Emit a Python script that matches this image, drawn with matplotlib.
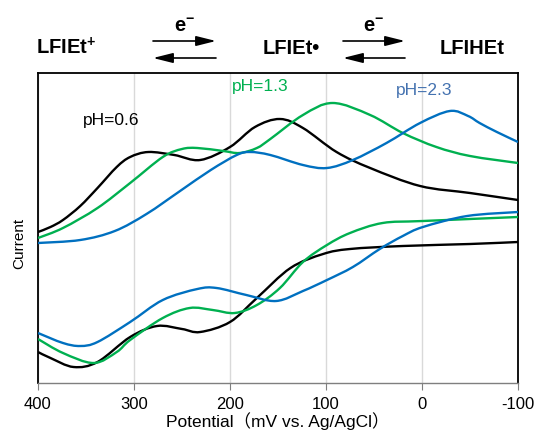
import matplotlib
matplotlib.use('Agg')
import matplotlib.pyplot as plt
from matplotlib.path import Path
from matplotlib.patches import PathPatch, FancyArrowPatch

plt.rcParams['font.family'] = ['Liberation Sans', 'Noto Sans CJK JP', 'DejaVu Sans']
plt.rcParams['mathtext.fontset'] = 'custom'
plt.rcParams['mathtext.rm'] = 'Liberation Sans'
plt.rcParams['mathtext.bf'] = 'Liberation Sans:bold'

### DATA (potential in mV vs Ag/AgCl, current in arbitrary units)
# upper branches
black_up_pot = [400, 387, 374, 356, 338, 318, 304, 285, 258, 231, 200, 174, 148, 124, 89, 54, 2, -50, -100]
black_up_cur = [15.1, 15.6, 16.3, 17.7, 19.5, 21.6, 22.6, 23.1, 22.8, 22.3, 23.6, 25.6, 26.4, 25.5, 23.1, 21.5,
                19.7, 19.0, 18.3]

green_up_pot = [400, 374, 338, 304, 270, 250, 234, 207, 190, 172, 158, 124, 93, 54, 20, -15, -50, -100]
green_up_cur = [14.5, 15.5, 17.5, 20.0, 22.6, 23.4, 23.5, 23.2, 23.0, 23.5, 24.4, 26.8, 28.0, 26.8, 25.0, 23.6,
                22.7, 22.0]

blue_up_pot = [400, 356, 320, 287, 252, 220, 193, 179, 158, 124, 99, 72, 37, 2, -29, -48, -60, -78, -100]
blue_up_cur = [14.0, 14.3, 15.2, 16.9, 19.2, 21.3, 22.8, 23.1, 22.8, 21.8, 21.5, 22.3, 24.0, 26.0, 27.2, 26.7,
               26.0, 25.1, 24.1]

# lower branches
black_dn_pot = [400, 387, 363, 338, 304, 276, 250, 231, 200, 172, 137, 103, 75, 20, -50, -100]
black_dn_cur = [3.1, 2.5, 1.6, 2.1, 4.6, 5.7, 5.4, 5.1, 6.1, 8.5, 11.5, 12.9, 13.4, 13.7, 13.9, 14.1]

green_dn_pot = [400, 374, 342, 318, 304, 270, 242, 218, 195, 172, 148, 124, 99, 75, 41, -1, -100]
green_dn_cur = [4.4, 3.0, 2.0, 3.1, 4.3, 6.5, 7.5, 7.3, 7.0, 7.8, 9.5, 12.1, 13.8, 15.0, 16.0, 16.2, 16.6]

blue_dn_pot = [400, 374, 356, 338, 304, 270, 234, 214, 183, 152, 124, 99, 72, 44, 20, -1, -47, -100]
blue_dn_cur = [5.0, 4.0, 3.7, 4.1, 6.1, 8.3, 9.4, 9.5, 8.8, 8.2, 9.2, 10.3, 11.6, 13.4, 14.7, 15.6, 16.7, 17.1]

xticks = [400, 300, 200, 100, 0, -100]


def smooth_path(xs, ys):
    # Excel-like smoothed line: cubic Bezier segments through the data points
    pts = list(zip(xs, ys))
    verts = [pts[0]]
    codes = [Path.MOVETO]
    n = len(pts)
    for i in range(n - 1):
        p0 = pts[i - 1] if i > 0 else pts[i]
        p1 = pts[i]
        p2 = pts[i + 1]
        p3 = pts[i + 2] if i + 2 < n else pts[i + 1]
        c1 = (p1[0] + (p2[0] - p0[0]) / 6, p1[1] + (p2[1] - p0[1]) / 6)
        c2 = (p2[0] - (p3[0] - p1[0]) / 6, p2[1] - (p3[1] - p1[1]) / 6)
        verts += [c1, c2, p2]
        codes += [Path.CURVE4] * 3
    return Path(verts, codes)


### PLOT
fig = plt.figure(figsize=(5.35, 4.32), dpi=100)
ax = fig.add_axes([38 / 535, 1 - 383 / 432, 480 / 535, 310 / 432])

black = 'black'
green = '#00B050'
blue = '#0070C0'
lw = 1.7

for pot, cur, c in [(black_up_pot, black_up_cur, black), (green_up_pot, green_up_cur, green),
                    (blue_up_pot, blue_up_cur, blue), (black_dn_pot, black_dn_cur, black),
                    (green_dn_pot, green_dn_cur, green), (blue_dn_pot, blue_dn_cur, blue)]:
    ax.add_patch(PathPatch(smooth_path(pot, cur), facecolor='none', edgecolor=c, lw=lw,
                           joinstyle='round', capstyle='butt', zorder=3))

ax.set_xlim(400, -100)
ax.set_ylim(0, 31)
ax.set_xticks(xticks)
ax.set_xticklabels([str(t) for t in xticks], fontsize=12)
ax.set_yticks([])
ax.grid(axis='x', color='#d9d9d9', lw=1)
ax.set_axisbelow(True)
for s in ['top', 'left', 'right']:
    ax.spines[s].set_color('black')
    ax.spines[s].set_linewidth(1.3)
ax.spines['bottom'].set_color('#7f7f7f')
ax.spines['bottom'].set_linewidth(1)
ax.tick_params(axis='x', direction='out', length=5, color='#7f7f7f', pad=5)

ax.set_xlabel('Potential（mV vs. Ag/AgCl）', fontsize=12.5, labelpad=0)
ax.set_ylabel('Current', fontsize=11)
ax.yaxis.set_label_coords(-0.025, 0.45)

ax.text(324, 26.2, 'pH=0.6', color='black', fontsize=12.5, ha='center', va='center')
ax.text(169, 29.6, 'pH=1.3', color=green, fontsize=12.5, ha='center', va='center')
ax.text(-2, 29.3, 'pH=2.3', color='#4472B0', fontsize=12.5, ha='center', va='center')

# reaction scheme above the plot
fig.text(66 / 535, 1 - 48 / 432, r'LFIEt$^{\mathbf{+}}$', fontsize=14.5, fontweight='bold', ha='center', va='center')
fig.text(291 / 535, 1 - 48 / 432, 'LFIEt•', fontsize=14.5, fontweight='bold', ha='center', va='center')
fig.text(472 / 535, 1 - 48 / 432, 'LFIHEt', fontsize=14.5, fontweight='bold', ha='center', va='center')

for x0, x1 in [(153, 216), (343, 405)]:
    ap = dict(arrowstyle='-|>,head_length=1.0,head_width=0.25', color='black', lw=1.2, shrinkA=0, shrinkB=0)
    fig.add_artist(FancyArrowPatch((x0 / 535, 1 - 41 / 432), (x1 / 535, 1 - 41 / 432),
                                   transform=fig.transFigure, mutation_scale=12, **ap))
    fig.add_artist(FancyArrowPatch((x1 / 535, 1 - 58 / 432), (x0 / 535, 1 - 58 / 432),
                                   transform=fig.transFigure, mutation_scale=12, **ap))
    fig.text((x0 + x1) / 2 / 535, 1 - 26 / 432, r'$\mathbf{e^{-}}$', fontsize=14.5, ha='center', va='center')

fig.savefig('out.png', dpi=100)
